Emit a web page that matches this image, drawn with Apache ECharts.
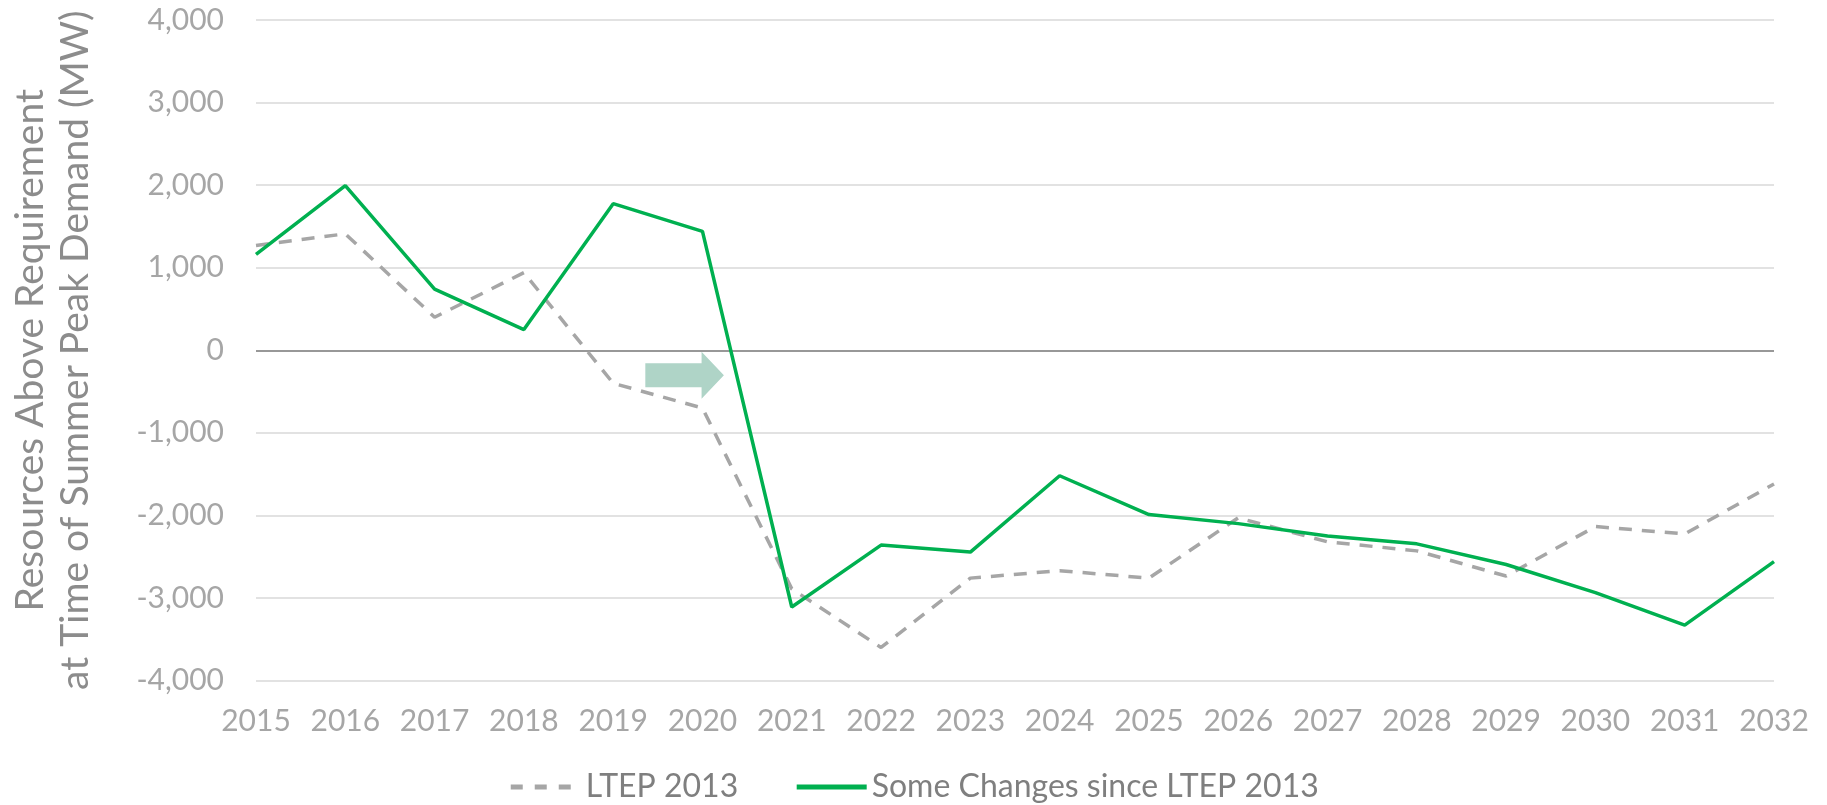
<!DOCTYPE html>
<html>
<head>
<meta charset="utf-8">
<title>Resources Above Requirement</title>
<script src="https://cdn.jsdelivr.net/npm/echarts@6/dist/echarts.min.js"></script>
<style>
  html, body { margin: 0; padding: 0; background: #fff; }
  #chart { width: 1827px; height: 805px; }
</style>
</head>
<body>
<div id="chart"></div>
<script>
const YEARS = ['2015', '2016', '2017', '2018', '2019', '2020', '2021', '2022', '2023',
  '2024', '2025', '2026', '2027', '2028', '2029', '2030', '2031', '2032'];

// MW above requirement at time of summer peak
const ltep2013 = [1270, 1410, 400, 940, -400, -700, -2890, -3600, -2760,
  -2670, -2760, -2030, -2320, -2430, -2735, -2135, -2225, -1620];
const someChanges = [1160, 1995, 740, 250, 1775, 1440, -3110, -2360, -2445,
  -1520, -1990, -2100, -2250, -2345, -2595, -2935, -3330, -2560];

const Y_TICKS = [-4000, 4000, 1000]; // min, max, step

const FONT = 'Lato, "Noto Sans", sans-serif';

const chart = echarts.init(document.getElementById('chart'));

const option = {
  animation: false,
  grid: { left: 244, right: 53, top: 20, bottom: 124.5 },
  legend: {
    top: 766,
    left: 'center',
    itemWidth: 70,
    itemHeight: 14,
    itemGap: 56,
    itemStyle: { opacity: 0 },
    textStyle: { fontFamily: FONT, fontSize: 32, color: '#7f7f7f' },
    data: [
      { name: 'LTEP 2013', lineStyle: { width: 5, type: [12, 12] } },
      { name: 'Some Changes since LTEP 2013', lineStyle: { width: 5 } },
    ],
  },
  xAxis: {
    type: 'category',
    data: YEARS,
    boundaryGap: false,
    axisLine: { show: false, onZero: false },
    axisTick: { show: false },
    axisLabel: { interval: 0, fontFamily: FONT, fontSize: 30, color: '#a6a6a6', margin: 26 },
  },
  yAxis: {
    type: 'value',
    min: Y_TICKS[0],
    max: Y_TICKS[1],
    interval: Y_TICKS[2],
    name: 'Resources Above Requirement\nat Time of Summer Peak Demand (MW)',
    nameLocation: 'middle',
    nameGap: 158,
    nameTextStyle: { fontFamily: FONT, fontSize: 39, color: '#8c8c8c', lineHeight: 45 },
    axisLine: { show: false },
    axisTick: { show: false },
    axisLabel: {
      fontFamily: FONT, fontSize: 30, color: '#a6a6a6', margin: 32,
      formatter: (v) => v.toLocaleString('en-US'),
    },
    splitLine: { lineStyle: { color: '#d9d9d9', width: 1.5 } },
  },
  series: [
    {
      name: 'LTEP 2013',
      type: 'line',
      data: ltep2013,
      symbol: 'none',
      z: 2,
      lineStyle: { color: '#a6a6a6', width: 3.5, type: [13, 10] },
      itemStyle: { color: '#a6a6a6' },
    },
    {
      name: 'Some Changes since LTEP 2013',
      type: 'line',
      data: someChanges,
      symbol: 'none',
      z: 3,
      lineStyle: { color: '#00b050', width: 3.5 },
      itemStyle: { color: '#00b050' },
      markLine: {
        silent: true,
        symbol: 'none',
        label: { show: false },
        lineStyle: { color: '#7f7f7f', width: 1.5, type: 'solid' },
        data: [{ yAxis: 0 }],
        z: 1,
      },
    },
  ],
};

chart.setOption(option);

// shift arrow, placed between 2019 and 2020 just below the zero line
const p0 = chart.convertToPixel({ gridIndex: 0 }, [4, 0]);
const p1 = chart.convertToPixel({ gridIndex: 0 }, [5, 0]);
const step = p1[0] - p0[0];
const ax = p0[0] + step * 0.36;
const tip = p0[0] + step * 1.24;
const neck = p0[0] + step * 0.99;
const cy = p0[1] + 25;
chart.setOption({
  graphic: [{
    type: 'polygon',
    z: 10,
    shape: {
      points: [
        [ax, cy - 12], [neck, cy - 12], [neck, cy - 23.5], [tip, cy],
        [neck, cy + 23.5], [neck, cy + 12], [ax, cy + 12],
      ],
    },
    style: { fill: '#afd4c7' },
  }],
});

window.addEventListener('resize', () => chart.resize());
</script>
</body>
</html>
